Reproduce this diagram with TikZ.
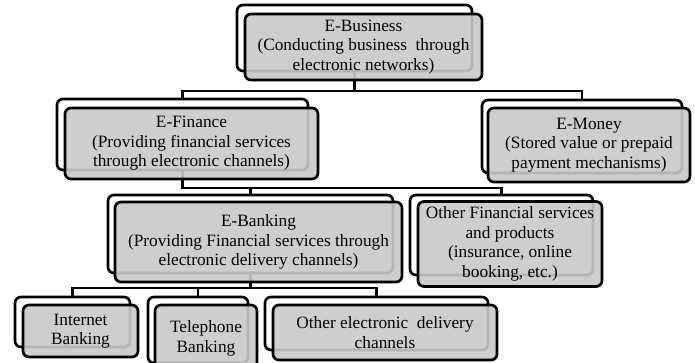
\documentclass[tikz,border=0pt]{standalone}
\usepackage{fontspec}
\setmainfont{Liberation Serif}
\tikzset{
	backbox/.style={draw, line width=2.7pt, rounded corners=6pt, fill=white, inner sep=0pt},
	frontbox/.style={draw, line width=2.7pt, rounded corners=6pt, fill=black!21, fill opacity=0.9, text opacity=1, align=center, inner sep=0pt, font=\fontsize{17.3}{19.6}\selectfont},
	link/.style={line width=2.7pt}
}
\begin{document}
\begin{tikzpicture}[x=1pt,y=-1pt]
	\useasboundingbox (0,0) rectangle (695,362);
	% back boxes
	\node[backbox, minimum width=235, minimum height=66] (busback) at (354.5,38) {};
	\node[backbox, minimum width=251, minimum height=71] (finback) at (182.5,134.5) {};
	\node[backbox, minimum width=200, minimum height=73] (monback) at (582,136.5) {};
	\node[backbox, minimum width=285, minimum height=78] (bankback) at (250.5,234) {};
	\node[backbox, minimum width=183, minimum height=80] (ofsback) at (501.5,235) {};
	\node[backbox, minimum width=115, minimum height=50] (inetback) at (72.5,322) {};
	\node[backbox, minimum width=100, minimum height=66] (telback) at (198,330) {};
	\node[backbox, minimum width=223, minimum height=53] (othback) at (376.5,323.5) {};
	% connectors
	\coordinate (lvl1) at (0,91);
	\coordinate (lvl2) at (0,188);
	\coordinate (lvl3) at (0,288);
	\draw[link] (busback.south) -- (busback.south |- lvl1);
	\draw[link] (finback.north) |- (busback.south |- lvl1) -| (monback.north);
	\draw[link] (finback.south) |- (ofsback.north |- lvl2) -- (ofsback.north);
	\draw[link] (bankback.north) -- (bankback.north |- lvl2);
	\draw[link] (bankback.south) -- (bankback.south |- lvl3);
	\draw[link] (inetback.north) |- (telback.north |- lvl3) -| (othback.north);
	\draw[link] (telback.north) -- (telback.north |- lvl3);
	% front boxes
	\node[frontbox, minimum width=237, minimum height=66] (bus) at (363.5,47) {E-Business\\(Conducting business~ through\\electronic networks)};
	\node[frontbox, minimum width=253, minimum height=71] (fin) at (191.5,143.5) {E-Finance\\(Providing financial services\\through electronic channels)};
	\node[frontbox, minimum width=202, minimum height=74] (mon) at (589,145) {E-Money\\(Stored value or prepaid\\payment mechanisms)};
	\node[frontbox, minimum width=287, minimum height=80] (bank) at (258.5,242) {E-Banking\\(Providing Financial services through\\electronic delivery channels)};
	\node[frontbox, minimum width=184, minimum height=85] (ofs) at (510,244) {Other Financial services\\and products\\(insurance, online\\booking, etc.)};
	\node[frontbox, minimum width=115, minimum height=52] (inet) at (80.5,331) {Internet\\Banking};
	\node[frontbox, minimum width=102, minimum height=67] (tel) at (206,338.5) {Telephone\\Banking};
	\node[frontbox, minimum width=224, minimum height=55] (oth) at (385,332.5) {Other electronic~ delivery\\channels};
\end{tikzpicture}
\end{document}
